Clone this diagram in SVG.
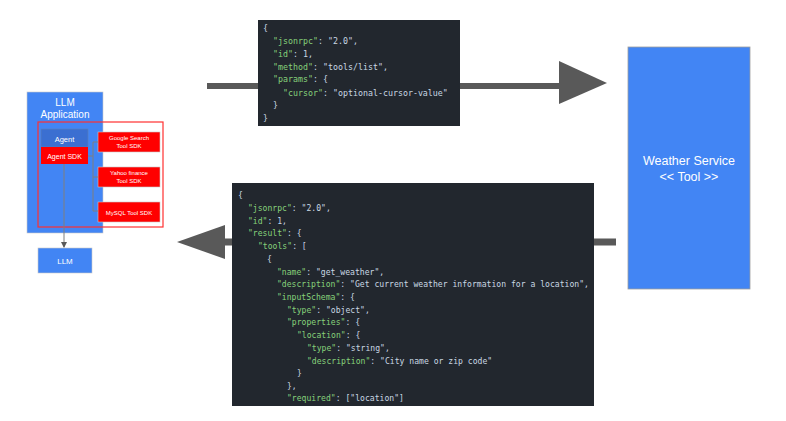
<svg xmlns="http://www.w3.org/2000/svg" width="786" height="421" viewBox="0 0 786 421">
<style>
.sans{font-family:"Liberation Sans",Arial,sans-serif;fill:#fff;text-anchor:middle}
.code{font-family:"DejaVu Sans Mono","Liberation Mono",monospace;fill:#c9d7e3;white-space:pre}
.k{fill:#86d17a}
.conn{stroke:#595959;fill:none}
.thin{stroke:#7f7f7f;stroke-width:1;fill:none}
.redbox{fill:#ff0000;stroke:#c8c8c8;stroke-width:0.6}
</style>
<defs>
<marker id="sm" markerWidth="6" markerHeight="6" refX="5" refY="3" orient="auto" markerUnits="userSpaceOnUse"><path d="M0,0 L6,3 L0,6 z" fill="#595959"/></marker>
</defs>
<rect width="786" height="421" fill="#fff"/>

<g id="llm-application">
<rect x="27" y="92" width="76" height="141" fill="#4285f4" stroke="#c8c8c8" stroke-width="0.6"/>
<text class="sans" x="65" y="106" font-size="10">LLM</text>
<text class="sans" x="65" y="118" font-size="10">Application</text>
</g>
<g id="sdk-group">
<rect x="38" y="122" width="125" height="105" fill="none" stroke="#ff3030" stroke-width="1.2"/>
</g>
<g id="agent">
<rect x="41" y="129" width="47" height="18" fill="#3b6fd1" stroke="#5f7fb5" stroke-width="0.6"/>
<text class="sans" x="64.5" y="142" font-size="7.5">Agent</text>
</g>
<g id="agent-sdk">
<rect x="41" y="147" width="47" height="17" fill="#ff0000"/>
<text class="sans" x="64.5" y="158.5" font-size="7">Agent SDK</text>
</g>
<g id="google-sdk">
<rect class="redbox" x="98" y="132" width="62" height="20"/>
<text class="sans" x="129" y="140" font-size="6">Google Search</text>
<text class="sans" x="129" y="148" font-size="6">Tool SDK</text>
</g>
<g id="yahoo-sdk">
<rect class="redbox" x="98" y="167" width="62" height="20"/>
<text class="sans" x="129" y="175" font-size="6">Yahoo finance</text>
<text class="sans" x="129" y="183" font-size="6">Tool SDK</text>
</g>
<g id="mysql-sdk">
<rect class="redbox" x="98" y="202" width="62" height="20"/>
<text class="sans" x="129" y="214.5" font-size="6">MySQL Tool SDK</text>
</g>
<g id="llm">
<rect x="38" y="248" width="54" height="25" fill="#4285f4" stroke="#c8c8c8" stroke-width="0.6"/>
<text class="sans" x="65" y="264" font-size="8">LLM</text>
</g>
<g id="weather-service">
<rect x="628" y="47" width="122" height="242" fill="#4285f4" stroke="#9e9e9e" stroke-width="0.8"/>
<text class="sans" x="689" y="165" font-size="12.5">Weather Service</text>
<text class="sans" x="689" y="181" font-size="12.5">&lt;&lt; Tool &gt;&gt;</text>
</g>

<g id="connectors">
<path class="thin" d="M88,156 H93 M93,142 V211 M93,142 H98 M93,177 H98 M93,211 H98"/>
<path d="M64,164 V247" stroke="#7f7f7f" stroke-width="1" fill="none" marker-end="url(#sm)"/>
<path class="conn" d="M207,86 H562" stroke-width="6"/>
<path d="M559,61 L607,83 L559,104 z" fill="#595959"/>
<path class="conn" d="M222,242 H616" stroke-width="7"/>
<path d="M225,225 L177,242 L225,259 z" fill="#595959"/>
</g>

<g id="request-json">
<rect x="258" y="20" width="202" height="106" fill="#22272e"/>
<text class="code" font-size="8.3">
<tspan x="263" y="31">{</tspan>
<tspan x="273" y="44"><tspan class="k">"jsonrpc"</tspan>: "2.0",</tspan>
<tspan x="273" y="57"><tspan class="k">"id"</tspan>: 1,</tspan>
<tspan x="273" y="70"><tspan class="k">"method"</tspan>: "tools/list",</tspan>
<tspan x="273" y="82"><tspan class="k">"params"</tspan>: {</tspan>
<tspan x="283" y="96"><tspan class="k">"cursor"</tspan>: "optional-cursor-value"</tspan>
<tspan x="273" y="108">}</tspan>
<tspan x="263" y="121">}</tspan>
</text>
</g>

<g id="response-json">
<rect x="232" y="183" width="362" height="223" fill="#22272e"/>
<text class="code" font-size="8.1">
<tspan x="238" y="198">{</tspan>
<tspan x="248" y="211"><tspan class="k">"jsonrpc"</tspan>: "2.0",</tspan>
<tspan x="248" y="224"><tspan class="k">"id"</tspan>: 1,</tspan>
<tspan x="248" y="236"><tspan class="k">"result"</tspan>: {</tspan>
<tspan x="258" y="249"><tspan class="k">"tools"</tspan>: [</tspan>
<tspan x="267" y="262">{</tspan>
<tspan x="277" y="275"><tspan class="k">"name"</tspan>: "get_weather",</tspan>
<tspan x="277" y="287"><tspan class="k">"description"</tspan>: "Get current weather information for a location",</tspan>
<tspan x="277" y="300"><tspan class="k">"inputSchema"</tspan>: {</tspan>
<tspan x="287" y="313"><tspan class="k">"type"</tspan>: "object",</tspan>
<tspan x="287" y="325"><tspan class="k">"properties"</tspan>: {</tspan>
<tspan x="297" y="338"><tspan class="k">"location"</tspan>: {</tspan>
<tspan x="307" y="351"><tspan class="k">"type"</tspan>: "string",</tspan>
<tspan x="307" y="364"><tspan class="k">"description"</tspan>: "City name or zip code"</tspan>
<tspan x="297" y="376">}</tspan>
<tspan x="287" y="389">},</tspan>
<tspan x="287" y="401"><tspan class="k">"required"</tspan>: ["location"]</tspan>
</text>
</g>
</svg>
